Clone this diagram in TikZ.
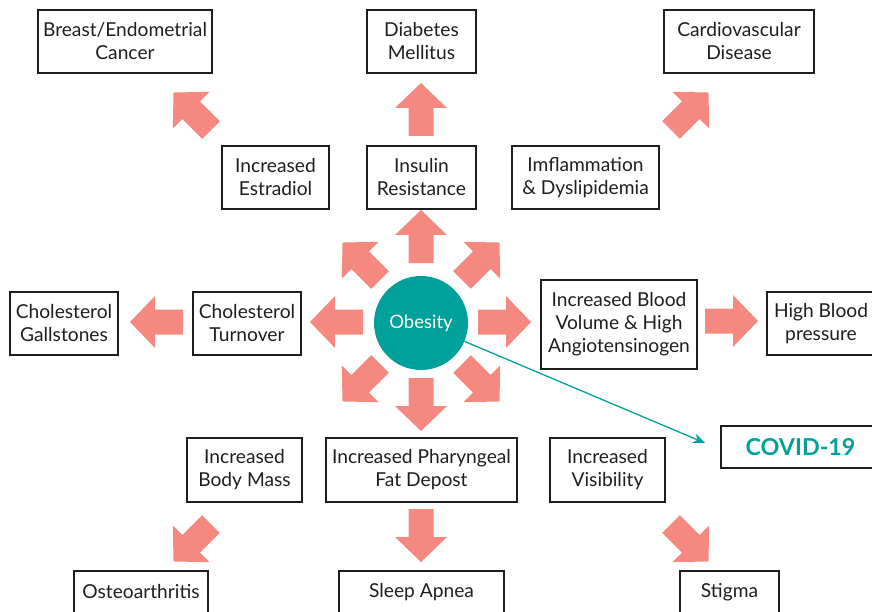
\documentclass[tikz,border=0pt]{standalone}
\usepackage{fontspec}
\setmainfont{Lato}
\usetikzlibrary{arrows.meta}
\definecolor{salmon}{RGB}{245,137,128}
\definecolor{tealc}{RGB}{0,161,154}
\definecolor{ink}{RGB}{30,30,30}
\tikzset{
 box/.style={draw=ink, line width=1.5pt, align=center, inner sep=2pt,
   font=\fontsize{19.2}{23}\selectfont, text=ink},
 blk/.pic={\fill[salmon] (0,12.5)--(28,12.5)--(28,26)--(53,0)--(28,-26)--(28,-12.5)--(0,-12.5)--cycle;},
}
\begin{document}
\begin{tikzpicture}[x=1pt,y=-1pt]
\useasboundingbox (0,0) rectangle (872,612);
% boxes
\node[box, minimum width=174, minimum height=63] (breast) at (125,41.5) {Breast/Endometrial\\Cancer};
\node[box, minimum width=109, minimum height=63] (diab) at (421.5,41.5) {Diabetes\\Mellitus};
\node[box, minimum width=150, minimum height=63] (cardio) at (739,41.5) {Cardiovascular\\Disease};
\node[box, minimum width=107, minimum height=63] (estr) at (275.5,177.5) {Increased\\Estradiol};
\node[box, minimum width=109, minimum height=63] (insul) at (421.5,177.5) {Insulin\\Resistance};
\node[box, minimum width=147, minimum height=63] (infl) at (585.5,177.5) {Imflammation\\\& Dyslipidemia};
\node[box, minimum width=108, minimum height=63] (gall) at (64,323.5) {Cholesterol\\Gallstones};
\node[box, minimum width=108, minimum height=63] (turn) at (247,323.5) {Cholesterol\\Turnover};
\node[circle, fill=tealc, minimum size=94, inner sep=0pt, text=white,
  font=\fontsize{18.5}{23}\selectfont] (ob) at (421,323) {Obesity};
\node[box, minimum width=156, minimum height=89] (blood) at (619,324.5) {Increased Blood\\Volume \& High\\Angiotensinogen};
\node[box, minimum width=108, minimum height=63] (hbp) at (821,323.5) {High Blood\\pressure};
\node[box, minimum width=115, minimum height=64] (body) at (244.5,470) {Increased\\Body Mass};
\node[box, minimum width=191, minimum height=64] (phar) at (421.5,470) {Increased Pharyngeal\\Fat Depost};
\node[box, minimum width=115, minimum height=64] (vis) at (607.5,470) {Increased\\Visibility};
\node[box, minimum width=159, minimum height=42, text=tealc,
  font=\fontsize{23.3}{27}\selectfont\bfseries] (covid) at (800.5,447) {COVID-19};
\node[box, minimum width=134, minimum height=42] (osteo) at (141,592) {Osteoarthritis};
\node[box, minimum width=165, minimum height=42] (sleep) at (421.5,592) {Sleep Apnea};
\node[box, minimum width=99, minimum height=42] (stigma) at (729.5,592) {Stigma};
% block arrows around obesity
\pic[rotate=90] at (421,263) {blk};
\pic[rotate=-90] at (421,378) {blk};
\pic[rotate=180] at (363,322) {blk};
\pic at (478,322) {blk};
\pic[rotate=135] at (380,280) {blk};
\pic[rotate=45] at (462,280) {blk};
\pic[rotate=225] at (380,364) {blk};
\pic[rotate=-45] at (462,364) {blk};
% outer block arrows
\pic[rotate=135] at (211,130) {blk};
\pic[rotate=90] at (421,136) {blk};
\pic[rotate=45] at (671,130) {blk};
\pic[rotate=180] at (183,322) {blk};
\pic at (705,321) {blk};
\pic[rotate=225] at (211,524) {blk};
\pic[rotate=-90] at (421,509) {blk};
\pic[rotate=-45] at (671,524) {blk};
% covid connector
\coordinate (covtip) at (705,443);
\draw[tealc, line width=1.3pt, -{Stealth[length=12pt,width=10pt]}] (ob) -- (covtip);
\end{tikzpicture}
\end{document}
